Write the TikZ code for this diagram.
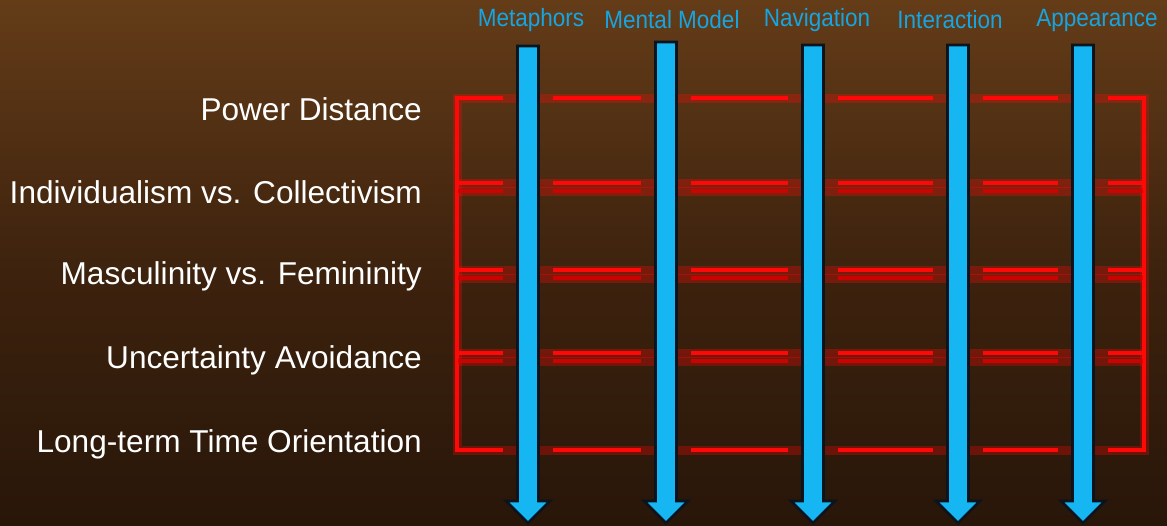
\documentclass[tikz,border=0pt]{standalone}
\usepackage{fontspec}
\setmainfont{Liberation Sans}
\definecolor{bgtop}{RGB}{100,60,24}
\definecolor{bgmid}{RGB}{62,35,14}
\definecolor{bgbot}{RGB}{40,22,9}
\definecolor{lblue}{RGB}{22,165,225}
\definecolor{afill}{RGB}{22,182,242}
\definecolor{aedge}{RGB}{10,20,30}
\definecolor{redline}{RGB}{255,8,8}
\tikzset{
  rowlabel/.style={anchor=east, text=white, font=\fontsize{31.6}{36}\selectfont, inner sep=0pt},
  collabel/.style={anchor=center, text=lblue, font=\fontsize{25}{30}\selectfont, xscale=0.9, inner sep=0pt},
  redglow/.style={draw=redline, line width=9pt, draw opacity=0.3},
  redbright/.style={draw=redline, line width=3.2pt},
  reddim/.style={draw=red!85!black, line width=4pt, draw opacity=0.85},
  arrowbody/.style={fill=afill, draw=aedge, line width=2.6pt, line join=miter}
}
\begin{document}
\begin{tikzpicture}[x=1pt,y=-1pt]
\useasboundingbox (0,0) rectangle (1167,525);
% background
\shade[top color=bgtop, bottom color=bgbot, middle color=bgmid] (0,0) rectangle (1167,525);

% red grid: coordinates
\coordinate (tl) at (457,98);
\coordinate (tr) at (1144,98);
\coordinate (bl) at (457,450);
\coordinate (br) at (1144,450);
% glow (continuous)
\path[redglow] (tl) -- (tr) -- (br) -- (bl) -- cycle;
\foreach \y in {183,270,353}{
  \coordinate (l\y) at (457,\y);
  \coordinate (r\y) at (1144,\y);
  \path[redglow] (l\y) -- (r\y);
  \path[redglow] ([yshift=-8pt]l\y) -- ([yshift=-8pt]r\y);
}
% outer verticals
\path[redbright] (tl) -- (bl);
\path[redbright] (tr) -- (br);
% bright horizontal segments, broken near the arrows
\foreach \y in {183,270,353}{
  \foreach \a/\b in {458/503,553/641,691/788,838/933,983/1058,1108/1143}{
    \path[reddim] (\a,{\y+8}) -- (\b,{\y+8});
  }
}
\foreach \y in {98,183,270,353,450}{
  \foreach \a/\b in {455.4/503,553/641,691/788,838/933,983/1058,1108/1145.6}{
    \path[redbright] (\a,\y) -- (\b,\y);
  }
}

% arrows
\foreach \x/\t/\n in {528/46/a,666/42/b,813/45/c,958/45/d,1083/45/e}{
  \coordinate (top\n) at (\x,\t);
  \coordinate (tip\n) at (\x,523);
  \path[arrowbody] ({\x-10.5},\t) -- ({\x+10.5},\t) -- ({\x+10.5},501) -- ({\x+22},501)
     -- (tip\n) -- ({\x-22},501) -- ({\x-10.5},501) -- cycle;
}

% column labels
\node[collabel] (c1) at (531,20) {Metaphors};
\node[collabel] (c2) at (672,20) {Mental Model};
\node[collabel] (c3) at (817,20) {Navigation};
\node[collabel] (c4) at (950,20) {Interaction};
\node[collabel] (c5) at (1097,20) {Appearance};

% row labels
\node[rowlabel] (r1) at (422,109) {Power Distance};
\node[rowlabel] (r2) at (422,192) {Individualism vs. Collectivism};
\node[rowlabel] (r3) at (422,276) {Masculinity vs. Femininity};
\node[rowlabel] (r4) at (422,360) {Uncertainty Avoidance};
\node[rowlabel] (r5) at (422,444) {Long-term Time Orientation};
\end{tikzpicture}
\end{document}
